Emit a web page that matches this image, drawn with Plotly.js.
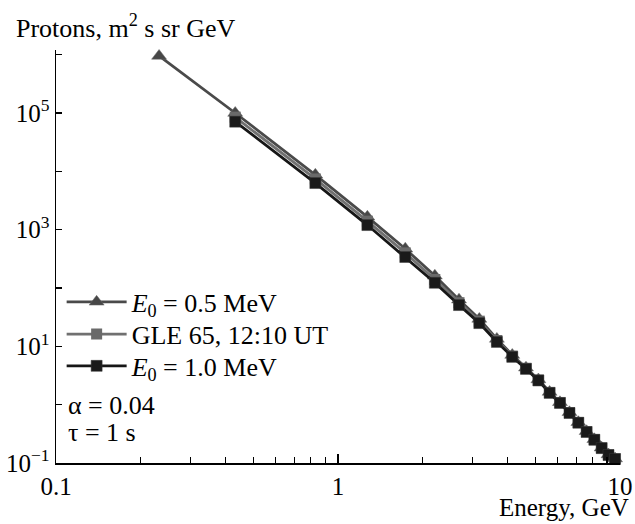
<!DOCTYPE html>
<html>
<head>
<meta charset="utf-8">
<script src="https://cdn.plot.ly/plotly-3.0.1.min.js"></script>
<style>html,body{margin:0;padding:0;background:#fff;}#chart{width:635px;height:524px;}</style>
</head>
<body>
<div id="chart"></div>
<script>
// Energies, GeV
const energyTri = [0.232, 0.432, 0.831, 1.271, 1.732, 2.205, 2.686, 3.170, 3.659, 4.149, 4.641, 5.135, 5.629, 6.125, 6.620, 7.117, 7.614, 8.111, 8.608, 9.106, 9.603];
const energy = [0.432, 0.831, 1.271, 1.732, 2.205, 2.686, 3.170, 3.659, 4.149, 4.641, 5.135, 5.629, 6.125, 6.620, 7.117, 7.614, 8.111, 8.608, 9.106, 9.603];
// Proton spectra
const fluxE05 = [9.5e5, 1.0e5, 8.7e3, 1.66e3, 470, 162, 63, 29.5, 13.4, 7.1, 4.3, 2.7, 1.65, 1.1, 0.74, 0.5, 0.35, 0.255, 0.183, 0.14, 0.119];
const fluxGLE = [8.5e4, 7.4e3, 1.4e3, 400, 140, 56, 27, 12.6, 6.8, 4.2, 2.65, 1.62, 1.08, 0.73, 0.495, 0.345, 0.252, 0.181, 0.138, 0.118];
const fluxE10 = [7.1e4, 6.3e3, 1.2e3, 340, 123, 51, 25, 11.9, 6.6, 4.1, 2.6, 1.59, 1.07, 0.72, 0.49, 0.34, 0.25, 0.18, 0.137, 0.117];
const names = ['<i>E</i><sub>0</sub> = 0.5 MeV', 'GLE 65, 12:10 UT', '<i>E</i><sub>0</sub> = 1.0 MeV'];
const xTickVals = [0.1, 1, 10];
const xTickText = ['0.1', '1', '10'];
const xMinorVals = [0.2, 0.3, 0.4, 0.5, 0.6, 0.7, 0.8, 0.9, 2, 3, 4, 5, 6, 7, 8, 9];
const yTickVals = [0.1, 1, 10, 100, 1e3, 1e4, 1e5, 1e6];
const yTickText = ['10<sup>−1</sup>', '', '10<sup>1</sup>', '', '10<sup>3</sup>', '', '10<sup>5</sup>', ''];

const font = 'Liberation Serif, Times New Roman, serif';
const traces = [
  {x: energyTri, y: fluxE05, name: names[0], mode: 'lines+markers', legend: 'legend',
   line: {color: '#4a4a4a', width: 2.8},
   marker: {symbol: 'triangle-up', size: 13, color: '#474747', line: {color: '#6a6a6a', width: 0.5}}, cliponaxis: false},
  {x: energy, y: fluxGLE, name: names[1], mode: 'lines+markers', legend: 'legend2',
   line: {color: '#707070', width: 2.8},
   marker: {symbol: 'square', size: 11, color: '#6a6a6a'}, cliponaxis: false},
  {x: energy, y: fluxE10, name: names[2], mode: 'lines+markers', legend: 'legend3',
   line: {color: '#161616', width: 2.8},
   marker: {symbol: 'square', size: 11, color: '#1a1a1a', line: {color: '#3a3a3a', width: 0.5}}, cliponaxis: false}
];

const legendBase = {x: 0.01, xanchor: 'left', yanchor: 'middle', bgcolor: 'rgba(0,0,0,0)',
  font: {family: font, size: 26, color: '#000'}, itemwidth: 60, borderwidth: 0};

const layout = {
  width: 635, height: 524,
  margin: {l: 56, r: 15, t: 50, b: 61},
  paper_bgcolor: '#fff', plot_bgcolor: '#fff',
  font: {family: font, size: 25, color: '#000'},
  showlegend: true,
  legend: Object.assign({}, legendBase, {y: 0.390}),
  legend2: Object.assign({}, legendBase, {y: 0.312}),
  legend3: Object.assign({}, legendBase, {y: 0.235}),
  xaxis: {type: 'log', range: [-1, 1], showgrid: false, zeroline: false,
          showline: true, linecolor: '#000', linewidth: 1.5,
          ticks: 'inside', ticklen: 9, tickwidth: 1.2, tickcolor: '#000',
          tickmode: 'array', tickvals: xTickVals, ticktext: xTickText,
          tickfont: {family: font, size: 25, color: '#000'},
          minor: {tickmode: 'array', tickvals: xMinorVals, ticks: 'inside', ticklen: 6, tickwidth: 1.2, tickcolor: '#000', showgrid: false}},
  yaxis: {type: 'log', range: [-1, 6.08], showgrid: false, zeroline: false,
          showline: true, linecolor: '#000', linewidth: 1.5,
          ticks: 'inside', ticklen: 6, tickwidth: 1.2, tickcolor: '#000',
          tickmode: 'array', tickvals: yTickVals, ticktext: yTickText,
          tickfont: {family: font, size: 25, color: '#000'}},
  annotations: [
    {xref: 'paper', yref: 'paper', x: -0.075, y: 1.058, xanchor: 'left', yanchor: 'middle', showarrow: false,
     text: 'Protons, m<sup>2</sup> s sr GeV', font: {family: font, size: 26, color: '#000'}},
    {xref: 'paper', yref: 'paper', x: 1.02, y: -0.107, xanchor: 'right', yanchor: 'middle', showarrow: false,
     text: 'Energy, GeV', font: {family: font, size: 25, color: '#000'}},
    {xref: 'paper', yref: 'paper', x: 0.018, y: 0.140, xanchor: 'left', yanchor: 'middle', showarrow: false,
     text: 'α = 0.04', font: {family: font, size: 26, color: '#000'}},
    {xref: 'paper', yref: 'paper', x: 0.018, y: 0.073, xanchor: 'left', yanchor: 'middle', showarrow: false,
     text: 'τ = 1 s', font: {family: font, size: 26, color: '#000'}}
  ]
};

Plotly.newPlot('chart', traces, layout, {displayModeBar: false, staticPlot: true});
</script>
</body>
</html>
